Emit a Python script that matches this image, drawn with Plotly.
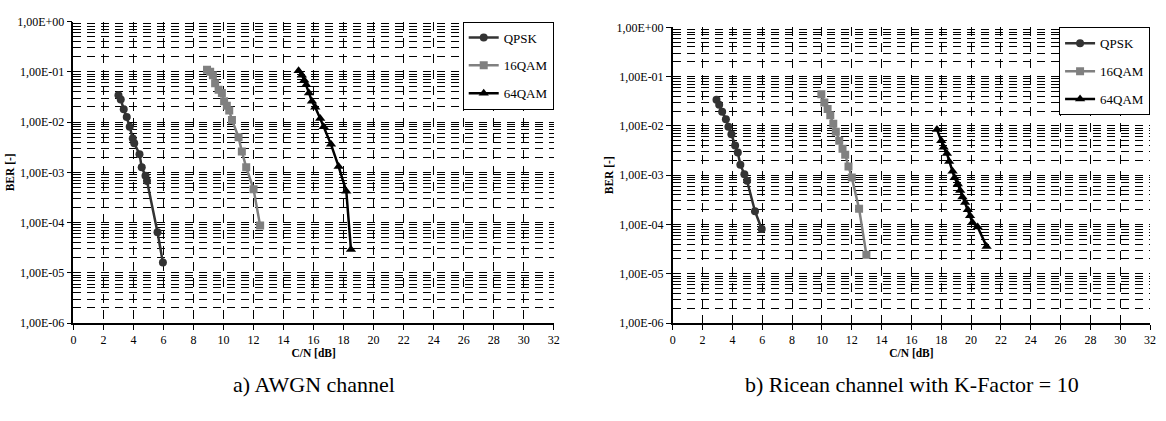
import plotly.graph_objects as go

# ---------------- data ----------------
# a) AWGN channel
awgn_qpsk_cn = [3.0, 3.15, 3.35, 3.55, 3.75, 3.95, 4.05, 4.4, 4.55, 4.8, 4.9, 5.6, 5.96]
awgn_qpsk_ber = [3.4e-2, 2.8e-2, 1.8e-2, 1.26e-2, 8.1e-3, 4.7e-3, 3.8e-3, 2.3e-3, 1.26e-3, 8.5e-4, 6.7e-4, 6.4e-5, 1.6e-5]

awgn_16qam_cn = [8.9, 9.11, 9.29, 9.44, 9.67, 9.89, 10.04, 10.22, 10.38, 10.56, 11.0, 11.22, 11.51, 12.0, 12.44]
awgn_16qam_ber = [1.1e-1, 1.0e-1, 8.5e-2, 5.9e-2, 4.4e-2, 3.8e-2, 2.6e-2, 2.1e-2, 1.7e-2, 1.1e-2, 5.0e-3, 2.6e-3, 1.26e-3, 4.6e-4, 8.7e-5]

awgn_64qam_cn = [15.0, 15.22, 15.38, 15.51, 15.69, 15.89, 16.11, 16.44, 16.67, 17.16, 17.67, 18.18, 18.49]
awgn_64qam_ber = [1.05e-1, 8.5e-2, 6.8e-2, 5.5e-2, 3.8e-2, 2.6e-2, 1.96e-2, 1.17e-2, 8.1e-3, 3.6e-3, 1.3e-3, 4.2e-4, 2.9e-5]

# b) Ricean channel, K-Factor = 10
rice_qpsk_cn = [2.93, 3.11, 3.31, 3.56, 3.73, 3.93, 4.18, 4.36, 4.53, 4.8, 4.98, 5.51, 5.96]
rice_qpsk_ber = [3.4e-2, 2.7e-2, 1.94e-2, 1.37e-2, 9.6e-3, 6.8e-3, 4.0e-3, 2.9e-3, 1.63e-3, 1.04e-3, 7.7e-4, 1.86e-4, 8.1e-5]

rice_16qam_cn = [9.96, 10.16, 10.38, 10.56, 10.76, 10.93, 11.16, 11.38, 11.56, 11.78, 12.0, 12.49, 12.98]
rice_16qam_ber = [4.4e-2, 3.0e-2, 2.2e-2, 1.65e-2, 1.1e-2, 7.6e-3, 5.0e-3, 3.45e-3, 2.6e-3, 1.5e-3, 9.0e-4, 2.1e-4, 2.45e-5]

rice_64qam_cn = [17.71, 18.0, 18.16, 18.38, 18.53, 18.76, 18.89, 19.11, 19.27, 19.42, 19.6, 19.78, 19.93, 20.09, 20.44, 21.04]
rice_64qam_ber = [8.5e-3, 5.0e-3, 3.7e-3, 2.75e-3, 1.9e-3, 1.2e-3, 8.9e-4, 6.6e-4, 4.9e-4, 3.6e-4, 2.8e-4, 2.0e-4, 1.5e-4, 1.1e-4, 8.9e-5, 3.6e-5]

series_names = ["QPSK", "16QAM", "64QAM"]
y_tickvals = [1, 1e-1, 1e-2, 1e-3, 1e-4, 1e-5, 1e-6]
y_ticktext = ["1,00E+00", "1,00E-01", "1,00E-02", "1,00E-03", "1,00E-04", "1,00E-05", "1,00E-06"]
x_title = "C/N [dB]"
y_title = "BER [-]"
captions = ["a) AWGN channel", "b) Ricean channel with K-Factor = 10"]

# ---------------- style ----------------
W, H = 1166, 421
SERIF = "Liberation Serif, Times New Roman, serif"
TICK_FONT = dict(family=SERIF, size=12, color="black")
TITLE_FONT = dict(family=SERIF, size=11.5, color="black")
styles = [
    dict(color="#333333", symbol="circle", size=8),
    dict(color="#808080", symbol="square", size=8),
    dict(color="#000000", symbol="triangle-up", size=9),
]

fig = go.Figure()

panels = [
    ("x", "y", "legend", [(awgn_qpsk_cn, awgn_qpsk_ber), (awgn_16qam_cn, awgn_16qam_ber), (awgn_64qam_cn, awgn_64qam_ber)]),
    ("x2", "y2", "legend2", [(rice_qpsk_cn, rice_qpsk_ber), (rice_16qam_cn, rice_16qam_ber), (rice_64qam_cn, rice_64qam_ber)]),
]
for xa, ya, lg, data in panels:
    for name, st, (xs, ys) in zip(series_names, styles, data):
        fig.add_trace(go.Scatter(
            x=xs, y=ys, name=name, mode="lines+markers", xaxis=xa, yaxis=ya, legend=lg,
            legendgroup=lg + name,
            line=dict(color=st["color"], width=2.5),
            marker=dict(color=st["color"], symbol=st["symbol"], size=st["size"]),
        ))

def px_x(p):
    return p / W

def px_y(p):
    return 1 - p / H

x_common = dict(
    range=[0, 32], tick0=0, dtick=2, showgrid=True, gridcolor="black", gridwidth=1,
    griddash="9px,7px", showline=True, linecolor="black", linewidth=1.5,
    ticks="outside", ticklen=5, tickcolor="black", tickwidth=1, zeroline=False,
    tickfont=TICK_FONT, title=dict(text="<b>" + x_title + "</b>", font=TITLE_FONT, standoff=0),
    fixedrange=True,
)
y_common = dict(
    type="log", range=[-6, 0], tickvals=y_tickvals, ticktext=y_ticktext,
    showgrid=True, gridcolor="black", gridwidth=1, griddash="8px,6px",
    showline=True, linecolor="black", linewidth=1.5, ticks="outside", ticklen=5,
    tickcolor="black", zeroline=False, tickfont=TICK_FONT,
    minor=dict(dtick="D1", showgrid=True, gridcolor="black", gridwidth=1, griddash="8px,6px", ticks=""),
    title=dict(text="<b>" + y_title + "</b>", font=TITLE_FONT, standoff=0),
    fixedrange=True,
)

legend_common = dict(
    xanchor="right", yanchor="top", bordercolor="black", borderwidth=1, bgcolor="white",
    font=dict(family=SERIF, size=13, color="black"), tracegroupgap=8, itemwidth=30,
)

fig.update_layout(
    width=W, height=H,
    margin=dict(l=0, r=0, t=0, b=0),
    paper_bgcolor="white", plot_bgcolor="white",
    xaxis=dict(domain=[px_x(71), px_x(555)], anchor="y", **x_common),
    yaxis=dict(domain=[px_y(327), px_y(15)], anchor="x", **y_common),
    xaxis2=dict(domain=[px_x(675), px_x(1156)], anchor="y2", **x_common),
    yaxis2=dict(domain=[px_y(327), px_y(21)], anchor="x2", **y_common),
    legend=dict(x=px_x(555), y=px_y(15), **legend_common),
    legend2=dict(x=px_x(1156), y=px_y(21), **legend_common),
    annotations=[
        dict(text=captions[0], x=px_x(313), y=px_y(390), xref="paper", yref="paper",
             xanchor="center", yanchor="middle", showarrow=False,
             font=dict(family=SERIF, size=22, color="black")),
        dict(text=captions[1], x=px_x(916), y=px_y(390), xref="paper", yref="paper",
             xanchor="center", yanchor="middle", showarrow=False,
             font=dict(family=SERIF, size=22, color="black")),
    ],
)

fig.write_html(
    "out.html",
    config={"displayModeBar": False},
    post_script="document.body.style.margin='0';document.body.style.overflow='hidden';",
)
